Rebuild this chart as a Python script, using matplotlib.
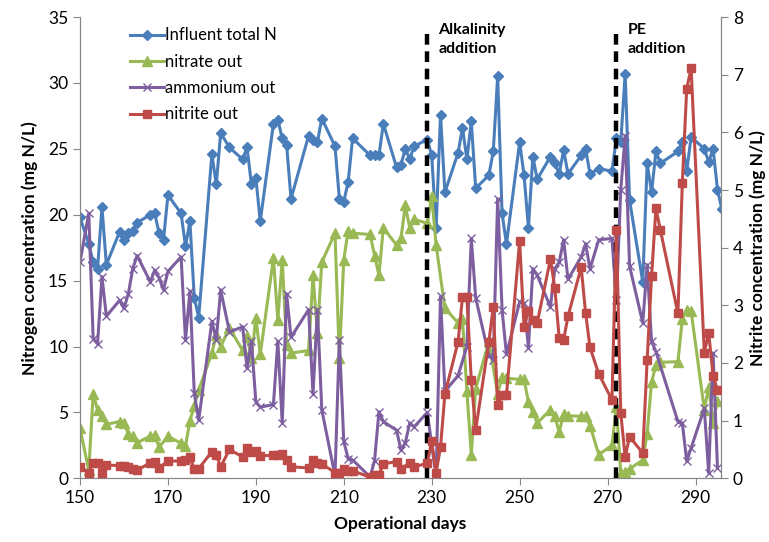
import matplotlib.pyplot as plt

plt.rcParams['font.family'] = ['Lato', 'DejaVu Sans']

# Influent total N (mg N/L)
days_tn = [150, 152, 153, 154, 155, 156, 159, 160, 161, 162,
           163, 166, 167, 168, 169, 170, 173, 174, 175, 176,
           177, 180, 181, 182, 184, 187, 188, 189, 190, 191,
           194, 195, 196, 197, 198, 202, 203, 204, 205, 208,
           209, 210, 211, 212, 216, 217, 218, 219, 222, 223,
           224, 225, 226, 229, 230, 231, 232, 233, 236, 237,
           238, 239, 240, 243, 244, 245, 246, 247, 250, 251,
           252, 253, 254, 257, 258, 259, 260, 261, 264, 265,
           266, 268, 271, 272, 273, 274, 275, 278, 279, 280,
           281, 282, 286, 287, 288, 289, 292, 293, 294, 295,
           296]
tn = [19.8, 17.8, 16.4, 15.9, 20.6, 16.2, 18.7, 18.1, 18.6, 18.8,
      19.4, 20.0, 20.1, 18.6, 18.1, 21.5, 20.1, 17.6, 19.5, 13.7,
      12.2, 24.6, 22.3, 26.2, 25.1, 24.2, 25.1, 22.3, 22.8, 19.5,
      26.9, 27.2, 25.8, 25.3, 21.2, 26.0, 25.7, 25.5, 27.3, 25.2,
      21.2, 21.0, 22.5, 25.8, 24.5, 24.5, 24.5, 26.9, 23.6, 23.8,
      25.0, 24.2, 25.2, 25.7, 24.5, 19.0, 27.6, 21.7, 24.7, 26.6,
      24.2, 27.1, 22.0, 23.0, 24.8, 30.5, 20.1, 17.8, 25.5, 23.0,
      19.0, 24.4, 22.7, 24.4, 23.9, 23.1, 24.9, 23.1, 24.5, 25.0,
      23.1, 23.5, 23.3, 25.8, 25.5, 30.7, 21.1, 14.9, 23.9, 21.7,
      24.8, 23.9, 24.8, 25.5, 23.3, 25.9, 25.0, 24.0, 25.0, 21.9,
      20.4]

# nitrate out (mg N/L)
days_no3 = [150, 152, 153, 154, 155, 156, 159, 160, 161, 162,
            163, 166, 167, 168, 170, 173, 174, 175, 176, 177,
            180, 181, 182, 184, 187, 188, 189, 190, 191, 194,
            195, 196, 197, 198, 202, 203, 204, 205, 208, 209,
            210, 211, 212, 216, 217, 218, 219, 222, 223, 224,
            225, 226, 229, 230, 231, 233, 236, 237, 238, 239,
            240, 243, 245, 246, 247, 250, 251, 252, 253, 254,
            257, 258, 259, 260, 261, 264, 265, 266, 268, 271,
            272, 273, 274, 275, 278, 279, 280, 281, 282, 286,
            287, 288, 289, 292, 293, 294, 295]
no3 = [3.8, 0.6, 6.4, 5.2, 4.7, 4.1, 4.3, 4.2, 3.4, 3.2,
       2.7, 3.2, 3.3, 2.35, 3.2, 2.65, 2.45, 4.35, 5.5, 6.7,
       9.5, 10.9, 10.0, 11.4, 9.7, 10.8, 9.1, 12.2, 9.4, 16.7,
       12.0, 16.6, 10.1, 9.5, 9.7, 15.4, 11.0, 16.4, 18.6, 9.1,
       16.6, 18.8, 18.6, 18.5, 16.9, 15.4, 19.0, 17.7, 18.2, 20.7,
       19.0, 19.65, 19.35, 21.4, 17.7, 12.9, 11.8, 12.1, 6.6, 1.8,
       6.8, 10.4, 6.4, 7.7, 7.6, 7.5, 7.5, 5.8, 5.0, 4.2,
       5.2, 4.7, 3.5, 4.9, 4.75, 4.7, 4.7, 4.0, 1.8, 2.5,
       5.4, 0.4, 0.5, 0.7, 1.4, 3.4, 7.3, 8.6, 8.8, 8.85,
       12.1, 12.8, 12.7, 5.2, 6.95, 4.2, 5.9]

# ammonium out (mg N/L)
days_nh4 = [150, 152, 153, 154, 155, 156, 159, 160, 161, 162,
            163, 166, 167, 168, 169, 170, 173, 174, 175, 176,
            177, 180, 181, 182, 184, 187, 188, 189, 190, 191,
            194, 195, 196, 197, 198, 202, 203, 204, 205, 208,
            209, 210, 211, 212, 216, 217, 218, 219, 222, 223,
            224, 225, 226, 229, 231, 232, 233, 236, 238, 239,
            240, 243, 244, 245, 246, 247, 250, 251, 252, 253,
            254, 257, 258, 259, 260, 261, 264, 265, 266, 268,
            271, 272, 273, 274, 275, 278, 279, 280, 281, 286,
            287, 288, 289, 292, 293, 294, 295]
nh4 = [16.4, 20.1, 10.6, 10.2, 15.3, 12.3, 13.5, 12.9, 14.0, 15.9,
       16.9, 14.9, 15.8, 15.2, 14.3, 15.7, 16.8, 10.5, 14.2, 6.45,
       4.4, 11.9, 10.5, 14.3, 11.1, 11.5, 8.35, 10.4, 5.8, 5.4,
       5.6, 10.4, 4.2, 14.0, 10.7, 12.8, 6.4, 12.8, 5.2, 0.2,
       10.5, 2.8, 1.5, 1.4, 0.1, 1.35, 5.05, 4.3, 3.65, 2.15,
       2.7, 4.2, 3.9, 5.0, 0.1, 13.8, 6.6, 7.8, 10.0, 18.2,
       13.7, 9.3, 9.0, 21.2, 12.8, 9.4, 13.4, 13.3, 9.9, 15.9,
       15.4, 13.0, 15.9, 16.4, 18.1, 15.1, 16.8, 17.8, 15.9, 18.1,
       18.2, 13.5, 21.9, 26.0, 16.1, 11.8, 16.2, 10.4, 9.6, 4.3,
       4.2, 1.3, 2.3, 5.3, 0.4, 9.5, 0.75]

# nitrite out (mg N/L, right axis)
days_no2 = [150, 152, 153, 154, 155, 156, 159, 160, 161, 162,
            163, 166, 167, 168, 170, 173, 174, 175, 176, 177,
            180, 181, 182, 184, 187, 188, 189, 190, 191, 194,
            195, 196, 197, 198, 202, 203, 204, 205, 208, 209,
            210, 211, 212, 216, 217, 218, 219, 222, 223, 225,
            226, 229, 230, 231, 232, 233, 236, 237, 238, 239,
            240, 243, 244, 245, 246, 247, 250, 251, 252, 253,
            254, 257, 258, 259, 260, 261, 264, 265, 266, 268,
            271, 272, 273, 274, 275, 278, 279, 280, 281, 282,
            286, 287, 288, 289, 292, 293, 294, 295]
no2 = [0.20, 0.10, 0.27, 0.27, 0.09, 0.23, 0.22, 0.21, 0.20, 0.16,
       0.14, 0.27, 0.29, 0.18, 0.30, 0.30, 0.32, 0.37, 0.16, 0.17,
       0.46, 0.40, 0.20, 0.50, 0.37, 0.52, 0.46, 0.48, 0.39, 0.40,
       0.40, 0.42, 0.31, 0.20, 0.18, 0.31, 0.27, 0.25, 0.10, 0.09,
       0.16, 0.13, 0.13, 0.02, 0.06, 0.06, 0.25, 0.29, 0.16, 0.27,
       0.20, 0.26, 0.64, 0.10, 0.54, 1.46, 2.37, 3.14, 3.14, 1.70,
       0.84, 2.37, 2.97, 1.27, 1.44, 1.44, 4.12, 2.62, 2.91, 2.75,
       2.70, 3.80, 3.30, 2.43, 2.40, 2.81, 3.66, 2.87, 2.27, 1.81,
       1.36, 4.30, 1.13, 0.37, 0.72, 0.44, 2.05, 3.50, 4.68, 4.31,
       2.86, 5.12, 6.76, 7.11, 2.18, 2.52, 1.78, 1.53]

events = [229, 272]
event_labels = ['Alkalinity\naddition', 'PE\naddition']

blue = '#4A7EBB'
green = '#98B954'
purple = '#7D5FA0'
red = '#BE4B48'
grey = '#868686'

fig = plt.figure(figsize=(7.69, 5.42), dpi=100)
ax = fig.add_axes([0.104, 0.1175, 0.8336, 0.8511])
ax2 = ax.twinx()

l1, = ax.plot(days_tn, tn, color=blue, lw=2.2, marker='D', ms=5,
              label='Influent total N')
l2, = ax.plot(days_no3, no3, color=green, lw=2.2, marker='^', ms=6.5,
              label='nitrate out')
l3, = ax.plot(days_nh4, nh4, color=purple, lw=2.2, marker='x', ms=6,
              mew=1.0, label='ammonium out')

# event markers (dashed verticals + notes)
for d, txt in zip(events, event_labels):
    ax2.plot([d, d], [0, 7.78], color='black', lw=3.2,
             linestyle=(0, (2.4, 1.5)), zorder=1)
    ax2.text(d + 2.5, 7.9, txt, fontsize=11.5, fontweight='bold',
             va='top', ha='left', linespacing=1.45)

l4, = ax2.plot(days_no2, no2, color=red, lw=2.2, marker='s', ms=6,
               label='nitrite out', zorder=3)

ax.set_xlim(150, 295.8)
ax.set_ylim(0, 35)
ax2.set_ylim(0, 8)
ax.set_xticks(range(150, 291, 20))
ax.set_yticks(range(0, 36, 5))
ax2.set_yticks(range(0, 9))

for a in (ax, ax2):
    a.spines['top'].set_visible(False)
    for s in ('left', 'right', 'bottom'):
        a.spines[s].set_color(grey)
    a.tick_params(colors=grey, labelcolor='black', labelsize=12.5,
                  direction='out', length=5)

ax.set_xlabel('Operational days', fontsize=12.5, fontweight='bold', labelpad=7)
ax.set_ylabel('Nitrogen concentration (mg N/L)', fontsize=12.5,
              fontweight='bold', labelpad=7)
ax2.set_ylabel('Nitrite concentration (mg N/L)', fontsize=12.5,
               fontweight='bold', labelpad=5)

ax2.legend(handles=[l1, l2, l3, l4], loc='upper left',
           bbox_to_anchor=(0.055, 1.01), frameon=False, fontsize=12,
           handlelength=2.0, handletextpad=0.1, labelspacing=0.62)

fig.savefig('out.png', dpi=100)
